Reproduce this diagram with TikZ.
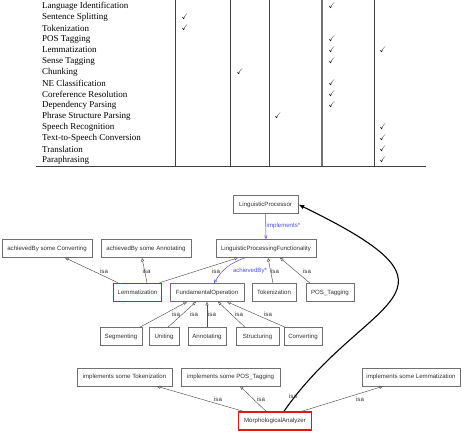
\documentclass[tikz,border=0pt]{standalone}
\usepackage{amssymb}
\usepackage{fontspec}
\setmainfont{Liberation Serif}
\newfontfamily\diagfont{Liberation Sans}
\usetikzlibrary{arrows.meta}
\definecolor{edgegray}{HTML}{505050}
\definecolor{boxgray}{HTML}{707070}
\definecolor{txtgray}{HTML}{303030}
\definecolor{relblue}{HTML}{5050E0}
\definecolor{hired}{HTML}{E01818}
\tikzset{
  rowtext/.style={anchor=west, inner sep=0pt, font=\fontsize{9}{10}\selectfont},
  chk/.style={inner sep=0pt, font=\fontsize{8}{9}\selectfont},
  tline/.style={draw=black!75, line width=0.6pt},
  box/.style={draw=boxgray, line width=0.6pt, minimum height=18pt, inner sep=1pt, text=txtgray, font=\diagfont\fontsize{6.1}{7}\selectfont},
  redbox/.style={draw=hired, line width=1.5pt, minimum height=18pt, inner sep=1pt, text=txtgray, font=\diagfont\fontsize{6.1}{7}\selectfont},
  isa/.style={draw=edgegray, line width=0.45pt, -{Triangle[open,length=3.5pt,width=3pt]}},
  isalbl/.style={inner sep=0pt, text=txtgray, font=\diagfont\fontsize{6.1}{7}\selectfont},
  rel/.style={draw=relblue, line width=0.5pt, -{Triangle[open,length=3.5pt,width=3pt]}},
  rellbl/.style={inner sep=0pt, text=relblue, font=\diagfont\fontsize{6.1}{7}\selectfont},
  big/.style={draw=black, line width=1.1pt, -{Latex[length=6pt,width=4.5pt]}}
}
\begin{document}
\begin{tikzpicture}[x=1pt,y=-1pt]
\useasboundingbox (0,0) rectangle (464,433);
% ---- table ----
\foreach \rowname [count=\ri from 0] in {Language Identification, Sentence Splitting, Tokenization, POS Tagging, Lemmatization, Sense Tagging, Chunking, NE Classification, Coreference Resolution, Dependency Parsing, Phrase Structure Parsing, Speech Recognition, Text-to-Speech Conversion, Translation, Paraphrasing}
  \node[rowtext] (row\ri) at (42,{6+11*\ri}) {\rowname};
\foreach \cx/\cr in {332/0,185/1,185/2,332/3,332/4,383/4,332/5,240/6,332/7,332/8,332/9,278/10,383/11,383/12,383/13,383/14}
  \node[chk] (chk\cx-\cr) at (\cx,{6+11*\cr}) {$\checkmark$};
\foreach \lx in {175,230,269,374}
  \draw[tline] (\lx,0) -- (\lx,166);
\draw[draw=black!55, line width=1.2pt] (322,0) -- (322,166);
\draw[tline] (36,166) -- (426,166);
% ---- diagram nodes ----
\node[box, minimum width=65pt] (lp) at (265.5,204.5) {LinguisticProcessor};
\node[box, minimum width=100pt] (lpf) at (266,248.5) {LinguisticProcessingFunctionality};
\node[box, minimum width=90pt] (abc) at (47,248.5) {achievedBy some Converting};
\node[box, minimum width=90pt] (aba) at (146,248.5) {achievedBy some Annotating};
\node[box, minimum width=74pt] (fo) at (207,292.5) {FundamentalOperation};
\node[box, minimum width=44pt] (tok) at (274,292.5) {Tokenization};
\node[box, minimum width=48pt] (pos) at (330,292.5) {POS\_Tagging};
\node[box, minimum width=42pt] (seg) at (121,336.5) {Segmenting};
\node[box, minimum width=30pt] (uni) at (164,336.5) {Uniting};
\node[box, minimum width=38pt] (ann) at (207,336.5) {Annotating};
\node[box, minimum width=43pt] (str) at (257.5,336.5) {Structuring};
\node[box, minimum width=38pt] (conv) at (303,336.5) {Converting};
\node[box, minimum width=95pt] (itok) at (124.5,377) {implements some Tokenization};
\node[box, minimum width=99pt] (ipos) at (230.5,377) {implements some POS\_Tagging};
\node[box, minimum width=98pt] (ilem) at (411,377) {implements some Lemmatization};
\node[redbox, minimum width=48pt] (lem) at (137.5,292.5) {Lemmatization};
\node[redbox, minimum width=73pt] (ma) at (275,421) {MorphologicalAnalyzer};
% ---- edges ----
\draw[rel] (lp) -- (lpf);
\node[rellbl, anchor=west] (limp) at (266.5,226) {implements*};
\draw[isa] ([xshift=-19.5pt]lem.north) -- ([xshift=18pt]abc.south);
\draw[isa] ([xshift=9.5pt]lem.north) -- ([xshift=-4pt]aba.south);
\draw[isa] ([xshift=22pt]lem.north) -- ([xshift=-28pt]lpf.south);
\draw[rel] ([xshift=-21pt]lpf.south) to[bend right=20] ([xshift=7pt]fo.north);
\draw[isa] ([xshift=-1pt]tok.north) -- ([xshift=2pt]lpf.south);
\draw[isa] ([xshift=-20pt]pos.north) -- ([xshift=14pt]lpf.south);
\node[isalbl] (l1) at (104,271) {isa};
\node[isalbl] (l2) at (146.5,271) {isa};
\node[isalbl] (l3) at (216,271) {isa};
\node[rellbl] (lab) at (250,271) {achievedBy*};
\node[isalbl] (l4) at (275,271) {isa};
\node[isalbl] (l5) at (307,271) {isa};
\draw[isa] ([xshift=19pt]seg.north) -- ([xshift=-20pt]fo.south);
\draw[isa] ([xshift=4pt]uni.north) -- ([xshift=-11pt]fo.south);
\draw[isa] (ann.north) -- (fo.south);
\draw[isa] ([xshift=-12.5pt]str.north) -- ([xshift=11pt]fo.south);
\draw[isa] ([xshift=-18pt]conv.north) -- ([xshift=20pt]fo.south);
\node[isalbl] (l6) at (176,314.5) {isa};
\node[isalbl] (l7) at (194,314.5) {isa};
\node[isalbl] (l8) at (212,314.5) {isa};
\node[isalbl] (l9) at (239,314.5) {isa};
\node[isalbl] (l10) at (268,314.5) {isa};
\draw[isa] ([xshift=-32pt]ma.north) -- ([xshift=32.5pt]itok.south);
\draw[isa] ([xshift=-9pt]ma.north) -- ([xshift=9.5pt]ipos.south);
\draw[isa] ([xshift=27pt]ma.north) -- ([xshift=-28pt]ilem.south);
\draw[big] ([xshift=9pt]ma.north) .. controls (365,295) and (485,295) .. (lp.east);
\node[isalbl] (l11) at (218,399) {isa};
\node[isalbl] (l12) at (261,399) {isa};
\node[isalbl] (l13) at (293,396) {isa};
\node[isalbl] (l14) at (360,399) {isa};
\end{tikzpicture}
\end{document}
